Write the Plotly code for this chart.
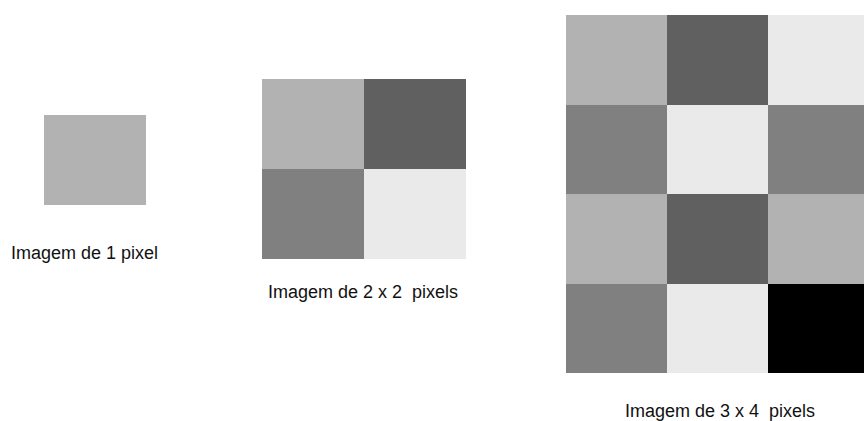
import plotly.graph_objects as go

# grey levels (0 = black, 255 = white), rows top to bottom
img_1x1 = [[178]]
img_2x2 = [[178, 96],
           [128, 234]]
img_3x4 = [[178, 96, 234],
           [128, 234, 128],
           [178, 96, 178],
           [128, 234, 0]]

labels = ["Imagem de 1 pixel",
          "Imagem de 2 x 2\u00a0 pixels",
          "Imagem de 3 x 4\u00a0 pixels"]

# placement of each image on the page: left, top, cell width, cell height
placements = [(44, 115, 102, 90),
              (262, 79, 102, 90),
              (566, 15, 101, 89.5)]
label_pos = [(84, 253), (363, 292), (720, 411)]

W, H = 864, 421

fig = go.Figure()

for z, (left, top, cw, ch) in zip([img_1x1, img_2x2, img_3x4], placements):
    fig.add_trace(go.Heatmap(
        z=z,
        x0=left + cw / 2, dx=cw,
        y0=top + ch / 2, dy=ch,
        zmin=0, zmax=255,
        colorscale=[[0, "#000000"], [1, "#ffffff"]],
        showscale=False,
        hoverinfo="skip"
    ))

for text, (x, y) in zip(labels, label_pos):
    fig.add_annotation(
        x=x, y=y, text=text, showarrow=False,
        xanchor="center", yanchor="middle",
        font=dict(family="Liberation Sans, Arial, sans-serif", size=18, color="#111111")
    )

fig.update_layout(
    width=W, height=H,
    margin=dict(l=0, r=0, t=0, b=0),
    paper_bgcolor="white",
    plot_bgcolor="white",
    xaxis=dict(range=[0, W], visible=False, fixedrange=True),
    yaxis=dict(range=[H, 0], visible=False, fixedrange=True),
    showlegend=False
)

# drop the default page margin so the figure fills the window exactly
fig.write_html("out.html", config={"displayModeBar": False},
               post_script="document.body.style.margin='0';document.body.style.overflow='hidden';")
